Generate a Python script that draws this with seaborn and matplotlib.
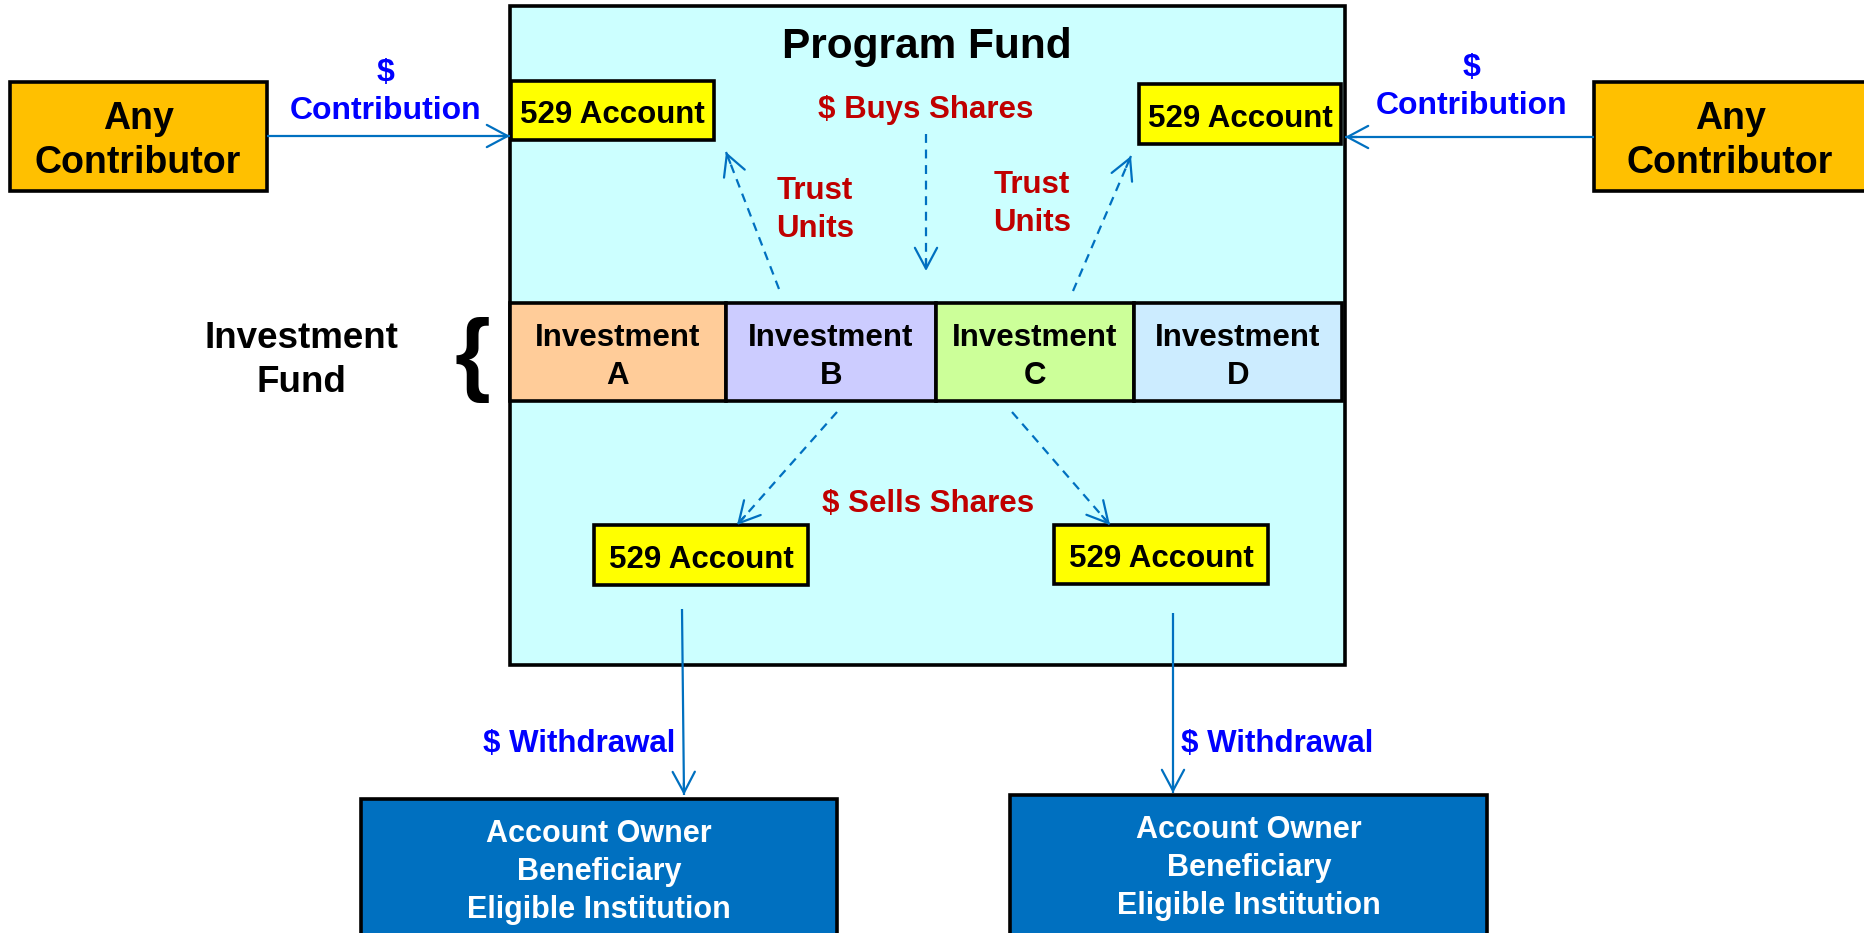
import matplotlib
matplotlib.use('Agg')
import matplotlib.pyplot as plt
import seaborn as sns
from matplotlib.patches import Rectangle
import numpy as np

sns.set_theme(style='white')
plt.rcParams['font.family'] = ['Liberation Sans', 'DejaVu Sans']

# ---- content ----
title = 'Program Fund'
contributor_lines = ['Any', 'Contributor']
contribution_lines = ['$', 'Contribution']
account_label = '529 Account'
buys_label = '$ Buys Shares'
sells_label = '$ Sells Shares'
trust_lines = ['Trust', 'Units']
fund_label_lines = ['Investment', 'Fund']
investment_names = ['A', 'B', 'C', 'D']
investment_colors = ['#FFCC99', '#CCCCFF', '#CCFF99', '#CCECFF']
withdrawal_label = '$ Withdrawal'
recipient_lines = ['Account Owner', 'Beneficiary', 'Eligible Institution']

# ---- style ----
ARROW = '#0070C0'
BLUE_TXT = '#0000FF'
RED_TXT = '#C00000'
W, H = 1864, 933
DY = 4  # visual centring offset for text

fig = plt.figure(figsize=(18.64, 9.33), dpi=100)
ax = fig.add_axes([0, 0, 1, 1])
ax.set_xlim(0, W)
ax.set_ylim(H, 0)
ax.axis('off')


def box(x0, y0, x1, y1, fc, lw=2.6, z=2):
    ax.add_patch(Rectangle((x0, y0), x1 - x0, y1 - y0, facecolor=fc,
                           edgecolor='black', lw=lw, zorder=z))


def txt(x, y, s, size, color='black', ha='center', z=5):
    ax.text(x, y + DY, s, fontsize=size, fontweight='bold', color=color,
            ha=ha, va='center', zorder=z)


def arrow(p0, p1, dashed=False, z=4):
    p0 = np.array(p0, float)
    p1 = np.array(p1, float)
    ls = (0, (4, 3)) if dashed else '-'
    ax.plot([p0[0], p1[0]], [p0[1], p1[1]], color=ARROW, lw=1.6, ls=ls,
            zorder=z, solid_capstyle='butt')
    d = (p1 - p0) / np.linalg.norm(p1 - p0)
    ax.annotate('', xy=tuple(p1), xytext=tuple(p1 - d * 12),
                arrowprops=dict(arrowstyle='->,head_length=0.75,head_width=0.4',
                                color=ARROW, lw=1.6, shrinkA=0, shrinkB=0,
                                mutation_scale=20), zorder=z)


# main program fund box
box(510, 6, 1345, 665, '#CCFFFF', z=1)
txt(927, 43, title, 30.5)

# contributor boxes
box(9.5, 82, 267, 191, '#FFC000')
txt(138, 115, contributor_lines[0], 27)
txt(138, 159, contributor_lines[1], 27)
box(1594, 82, 1872, 191, '#FFC000')
txt(1730, 115, contributor_lines[0], 27)
txt(1730, 159, contributor_lines[1], 27)

# contribution arrows
arrow((267, 136), (510, 136))
txt(386, 69, contribution_lines[0], 23, BLUE_TXT)
txt(386, 107, contribution_lines[1], 23, BLUE_TXT)
arrow((1594, 137), (1345, 137))
txt(1472, 64, contribution_lines[0], 23, BLUE_TXT)
txt(1472, 102, contribution_lines[1], 23, BLUE_TXT)

# top 529 accounts
box(511, 81, 714, 140, '#FFFF00', z=3)
txt(612, 111, account_label, 22.5)
box(1139, 84, 1341, 144, '#FFFF00', z=3)
txt(1240, 115, account_label, 22.5)

# buys shares
txt(926, 106, buys_label, 22.5, RED_TXT)
arrow((926, 134), (926, 271), dashed=True)
txt(815, 187, trust_lines[0], 22.5, RED_TXT)
txt(815, 225, trust_lines[1], 22.5, RED_TXT)
txt(1032, 181, trust_lines[0], 22.5, RED_TXT)
txt(1032, 219, trust_lines[1], 22.5, RED_TXT)
arrow((779, 289), (726, 152), dashed=True)
arrow((1073, 291), (1131, 156), dashed=True)

# investment row
edges = [510, 726, 936, 1134, 1342]
for i, name in enumerate(investment_names):
    box(edges[i], 303, edges[i + 1], 401, investment_colors[i], z=3)
    cx = (edges[i] + edges[i + 1]) / 2
    txt(cx, 334, 'Investment', 22.5)
    txt(cx, 372, name, 22.5)

# investment fund label + brace
txt(301, 334, fund_label_lines[0], 26.5)
txt(301, 378, fund_label_lines[1], 26.5)
ax.text(472, 360, '{', fontsize=66, fontweight='bold', ha='center',
        va='center', color='black')

# sells shares
arrow((837, 412), (737, 525), dashed=True)
arrow((1012, 412), (1110, 525), dashed=True)
txt(928, 500, sells_label, 22.5, RED_TXT)

# bottom 529 accounts
box(594, 525, 808, 585, '#FFFF00', z=3)
txt(701, 556, account_label, 22.5)
box(1054, 525, 1268, 584, '#FFFF00', z=3)
txt(1161, 555, account_label, 22.5)

# withdrawals
arrow((682, 609), (684, 795))
txt(675, 740, withdrawal_label, 22.5, BLUE_TXT, ha='right')
arrow((1173, 613), (1173, 793))
txt(1181, 740, withdrawal_label, 22.5, BLUE_TXT, ha='left')

# recipient boxes
box(361, 799, 837, 960, '#0070C0')
box(1010, 795, 1487, 960, '#0070C0')
for j, line in enumerate(recipient_lines):
    txt(599, 830 + 38 * j, line, 22, 'white')
    txt(1249, 826 + 38 * j, line, 22, 'white')

fig.savefig('out.png', dpi=100)
